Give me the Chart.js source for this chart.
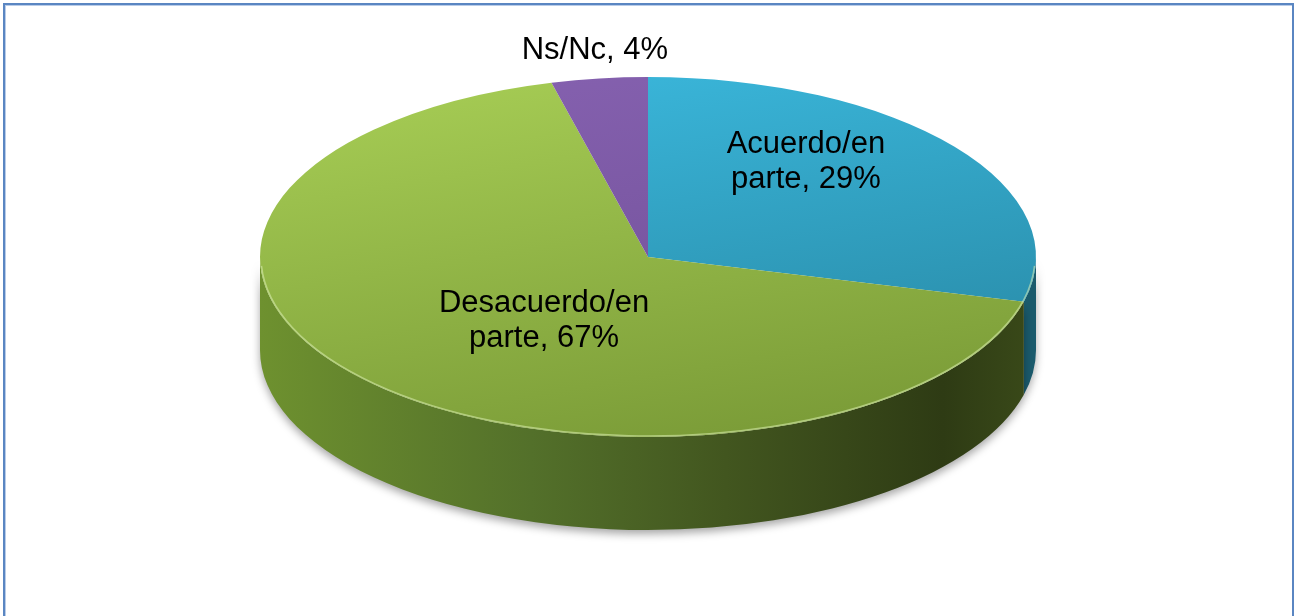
<!DOCTYPE html>
<html lang="es">
  <head>
    <meta charset="UTF-8" />
    <title>Pie 3D</title>
    <script src="https://cdn.jsdelivr.net/npm/chart.js"></script>
    <style>
      html, body { margin: 0; padding: 0; overflow: hidden; background: #fff; }
      #frame {
        position: absolute; left: 3px; top: 3px; width: 1287px; height: 640px;
        border: 2px solid #5A86C2; box-shadow: inset 1px 1px 0 #B9CCE8;
      }
      #myChart { position: absolute; left: 0; top: 0; }
    </style>
  </head>
  <body>
    <div id="frame"></div>
    <canvas id="myChart" width="1299" height="616"></canvas>
    <script>
      // data
      const categories = ['Acuerdo/en parte', 'Desacuerdo/en parte', 'Ns/Nc'];
      const labelLines = [['Acuerdo/en', 'parte'], ['Desacuerdo/en', 'parte'], ['Ns/Nc']];
      const percents = [29, 67, 4];

      // look of the 3D pie
      const RX = 388, RY = 180, DEPTH = 93;
      const topColors = [['#3AB6DA', '#2787A3'], ['#A4CA53', '#7A9B37'], ['#8460AE', '#6E4D95']];
      const sideColors = [['#23758D', '#1A5A6C'], ['#6E912F', '#2E3B14'], ['#5A3F7A', '#3F2B58']];
      // label anchor (first baseline) as a fraction of the ellipse radii
      const labelAnchor = [[0.407, -0.578], [-0.268, 0.306], [-0.137, -1.1]];

      function faceGradient(context) {
        const chart = context.chart;
        const c = topColors[context.dataIndex];
        const area = chart.chartArea;
        if (!area || !isFinite(area.left)) return c[0];
        const x = (area.left + area.right) / 2, y = (area.top + area.bottom) / 2;
        const g = chart.ctx.createLinearGradient(x - RX * 0.3, y - RX, x + RX * 0.4, y + RX);
        g.addColorStop(0, c[0]);
        g.addColorStop(1, c[1]);
        return g;
      }

      const pie3d = {
        id: 'pie3d',
        beforeDatasetsDraw(chart) {
          const ctx = chart.ctx;
          const arcs = chart.getDatasetMeta(0).data;
          const cx = arcs[0].x, cy = arcs[0].y;
          // side wall: only the front half (canvas angles 0..PI)
          ctx.save();
          ctx.shadowColor = 'rgba(0,0,0,0.35)';
          ctx.shadowBlur = 9;
          ctx.shadowOffsetY = 4;
          arcs.forEach((arc, i) => {
            let a = arc.startAngle, b = arc.endAngle;
            const twoPi = Math.PI * 2;
            while (a < -0.0001) { a += twoPi; b += twoPi; }
            const parts = [[a, b], [a - twoPi, b - twoPi]];
            parts.forEach(([s, e]) => {
              const s2 = Math.max(s, 0), e2 = Math.min(e, Math.PI);
              if (e2 <= s2) return;
              const g = ctx.createLinearGradient(cx - RX, 0, cx + RX, 0);
              const c = sideColors[i];
              g.addColorStop(0, c[0]);
              g.addColorStop(0.35, i === 1 ? '#53702A' : c[0]);
              g.addColorStop(0.6, i === 1 ? '#42561F' : c[1]);
              g.addColorStop(0.88, c[1]);
              g.addColorStop(1, i === 1 ? '#3A4A19' : c[1]);
              ctx.beginPath();
              ctx.ellipse(cx, cy, RX, RY, 0, s2, e2, false);
              ctx.ellipse(cx, cy + DEPTH, RX, RY, 0, e2, s2, true);
              ctx.closePath();
              ctx.fillStyle = g;
              ctx.fill();
            });
          });
          ctx.restore();
          // squash the top face into an ellipse
          ctx.save();
          ctx.translate(cx, cy);
          ctx.scale(1, RY / RX);
          ctx.translate(-cx, -cy);
        },
        afterDatasetsDraw(chart) {
          const ctx = chart.ctx;
          ctx.restore();
          const arcs = chart.getDatasetMeta(0).data;
          const cx = arcs[0].x, cy = arcs[0].y;
          // soft highlight on the front rim
          ctx.save();
          ctx.beginPath();
          ctx.ellipse(cx, cy, RX - 1, RY - 1, 0, 0.05, Math.PI - 0.05);
          ctx.strokeStyle = 'rgba(220,240,180,0.55)';
          ctx.lineWidth = 1.5;
          ctx.stroke();
          ctx.restore();
          // data labels
          ctx.save();
          ctx.font = '31px "Liberation Sans", Arial, sans-serif';
          ctx.fillStyle = '#000';
          ctx.textAlign = 'center';
          ctx.textBaseline = 'alphabetic';
          categories.forEach((cat, i) => {
            const lines = labelLines[i].slice();
            lines[lines.length - 1] += ', ' + percents[i] + '%';
            const x = cx + RX * labelAnchor[i][0];
            const y = cy + RY * labelAnchor[i][1];
            lines.forEach((t, k) => ctx.fillText(t, x, y + k * 35));
          });
          ctx.restore();
        }
      };

      new Chart(document.getElementById('myChart'), {
        type: 'pie',
        data: {
          labels: categories,
          datasets: [{
            data: percents,
            backgroundColor: faceGradient,
            borderWidth: 0,
            radius: RX,
            clip: false
          }]
        },
        options: {
          responsive: false,
          animation: false,
          layout: { padding: { left: 0, right: 3, top: 0, bottom: 102 } },
          plugins: { legend: { display: false }, tooltip: { enabled: false } },
          events: []
        },
        plugins: [pie3d]
      });
    </script>
  </body>
</html>
